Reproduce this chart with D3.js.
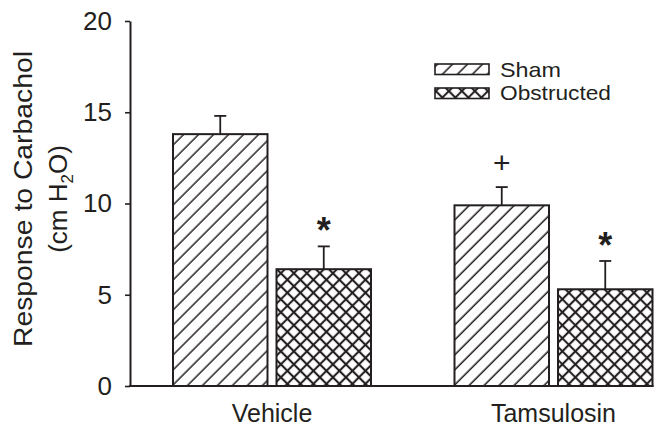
<!DOCTYPE html>
<html>
<head>
<meta charset="utf-8">
<script src="https://cdn.jsdelivr.net/npm/d3@7"></script>
<style>
  html, body { margin: 0; padding: 0; background: #fff; }
  svg { display: block; }
  text { font-family: "Liberation Sans", Arial, Helvetica, sans-serif; fill: #231f20; }
</style>
</head>
<body>
<svg id="chart" width="665" height="429"></svg>
<script>
// Bladder response to carbachol, by treatment and group
const categories = ["Vehicle", "Tamsulosin"];
const groups = ["Sham", "Obstructed"];
const shamValues = [13.8, 9.9];
const obstructedValues = [6.4, 5.3];
const shamErrors = [1.0, 1.0];
const obstructedErrors = [1.25, 1.55];
const shamMarks = ["", "+"];
const obstructedMarks = ["*", "*"];
const yTicks = [0, 5, 10, 15, 20];

const ink = "#231f20";
const svg = d3.select("#chart");

const rows = [];
categories.forEach((c, i) => {
  rows.push({ category: c, group: "Sham", value: shamValues[i], err: shamErrors[i], mark: shamMarks[i] });
  rows.push({ category: c, group: "Obstructed", value: obstructedValues[i], err: obstructedErrors[i], mark: obstructedMarks[i] });
});

const axisX = 130;
const y = d3.scaleLinear().domain([0, 20]).range([386, 21]);
const x0 = d3.scaleBand().domain(categories).range([131.25, 694.25]).padding(0);
const x1 = d3.scaleBand().domain(groups)
  .range([x0.bandwidth() / 2 - 99, x0.bandwidth() / 2 + 99])
  .paddingInner(0.087).paddingOuter(0);

// Hatch fills
const defs = svg.append("defs");
const sham = defs.append("pattern")
  .attr("id", "hatch-sham").attr("patternUnits", "userSpaceOnUse")
  .attr("width", 10.6).attr("height", 10.6)
  .attr("patternTransform", "rotate(45)");
sham.append("rect").attr("width", 10.6).attr("height", 10.6).attr("fill", "#fff");
sham.append("line").attr("x1", 5).attr("x2", 5).attr("y1", -1).attr("y2", 12)
  .attr("stroke", ink).attr("stroke-width", 1.5);

const obs = defs.append("pattern")
  .attr("id", "hatch-obstructed").attr("patternUnits", "userSpaceOnUse")
  .attr("width", 9.2).attr("height", 9.2)
  .attr("patternTransform", "rotate(45)");
obs.append("rect").attr("width", 9.2).attr("height", 9.2).attr("fill", "#fff");
obs.append("line").attr("x1", 4.6).attr("x2", 4.6).attr("y1", -1).attr("y2", 10.2)
  .attr("stroke", ink).attr("stroke-width", 2.1);
obs.append("line").attr("y1", 4.6).attr("y2", 4.6).attr("x1", -1).attr("x2", 10.2)
  .attr("stroke", ink).attr("stroke-width", 2.1);

const fillFor = g => g === "Sham" ? "url(#hatch-sham)" : "url(#hatch-obstructed)";

// Y axis
const yAxis = svg.append("g")
  .attr("transform", `translate(${axisX},0)`)
  .call(d3.axisLeft(y).tickValues(yTicks).tickSize(5).tickSizeOuter(0).tickPadding(13));
yAxis.select(".domain").attr("stroke", ink).attr("stroke-width", 2);
yAxis.selectAll(".tick line").attr("stroke", ink).attr("stroke-width", 1.6);
yAxis.selectAll(".tick text").style("font-size", "26px").attr("fill", ink)
  .style("font-family", "'Liberation Sans', Arial, sans-serif");

// Y axis title
svg.append("text")
  .attr("transform", "translate(32,199) rotate(-90)")
  .attr("text-anchor", "middle")
  .style("font-size", "26px")
  .attr("textLength", 296).attr("lengthAdjust", "spacingAndGlyphs")
  .text("Response to Carbachol");
const t2 = svg.append("text")
  .attr("transform", "translate(67,199) rotate(-90)")
  .attr("text-anchor", "middle")
  .style("font-size", "26px");
t2.append("tspan").text("(cm H");
t2.append("tspan").attr("dy", 6).style("font-size", "17px").text("2");
t2.append("tspan").attr("dy", -6).text("O)");

// Bars
const groupG = svg.selectAll("g.cat").data(categories).join("g")
  .attr("class", "cat")
  .attr("transform", d => `translate(${x0(d)},0)`);

const barG = groupG.selectAll("g.bar")
  .data(c => rows.filter(r => r.category === c))
  .join("g").attr("class", "bar");

// Error bars (upper only)
barG.append("line")
  .attr("x1", d => x1(d.group) + x1.bandwidth() / 2)
  .attr("x2", d => x1(d.group) + x1.bandwidth() / 2)
  .attr("y1", d => y(d.value))
  .attr("y2", d => y(d.value + d.err))
  .attr("stroke", ink).attr("stroke-width", 1.8);
barG.append("line")
  .attr("x1", d => x1(d.group) + x1.bandwidth() / 2 - 6)
  .attr("x2", d => x1(d.group) + x1.bandwidth() / 2 + 6)
  .attr("y1", d => y(d.value + d.err))
  .attr("y2", d => y(d.value + d.err))
  .attr("stroke", ink).attr("stroke-width", 1.8);

barG.append("rect")
  .attr("x", d => x1(d.group))
  .attr("y", d => y(d.value))
  .attr("width", x1.bandwidth())
  .attr("height", d => y(0) - y(d.value))
  .attr("fill", d => fillFor(d.group))
  .attr("stroke", ink).attr("stroke-width", 2);

// Significance marks above the error bars
barG.filter(d => d.mark === "*").append("text")
  .attr("x", d => x1(d.group) + x1.bandwidth() / 2)
  .attr("y", d => y(d.value + d.err) - 3)
  .attr("text-anchor", "middle")
  .style("font-size", "36px").style("font-weight", "bold")
  .text(d => d.mark);
barG.filter(d => d.mark === "+").append("text")
  .attr("x", d => x1(d.group) + x1.bandwidth() / 2)
  .attr("y", d => y(d.value + d.err) - 14)
  .attr("text-anchor", "middle")
  .style("font-size", "30px")
  .text(d => d.mark);

// Baseline
const lastCat = categories[categories.length - 1];
svg.append("line")
  .attr("x1", axisX - 1).attr("x2", x0(lastCat) + x1("Obstructed") + x1.bandwidth() + 1)
  .attr("y1", y(0)).attr("y2", y(0))
  .attr("stroke", ink).attr("stroke-width", 2.2);

// Category labels
const xAxis = svg.append("g")
  .attr("transform", `translate(0,${y(0)})`)
  .call(d3.axisBottom(x0).tickSize(0).tickPadding(18));
xAxis.select(".domain").remove();
xAxis.selectAll(".tick text").style("font-size", "25px").attr("fill", ink)
  .style("font-family", "'Liberation Sans', Arial, sans-serif");

// Legend
const legend = svg.append("g");
const legendRows = [
  { group: "Sham", top: 64, base: 77 },
  { group: "Obstructed", top: 88, base: 100 }
];
legendRows.forEach(r => {
  legend.append("rect")
    .attr("x", 435).attr("y", r.top).attr("width", 54).attr("height", 10.5)
    .attr("fill", fillFor(r.group)).attr("stroke", ink).attr("stroke-width", 1.6);
  legend.append("text")
    .attr("x", 500).attr("y", r.base)
    .style("font-size", "21px")
    .attr("textLength", r.group === "Sham" ? 61 : 111)
    .attr("lengthAdjust", "spacingAndGlyphs")
    .text(r.group);
});
</script>
</body>
</html>
